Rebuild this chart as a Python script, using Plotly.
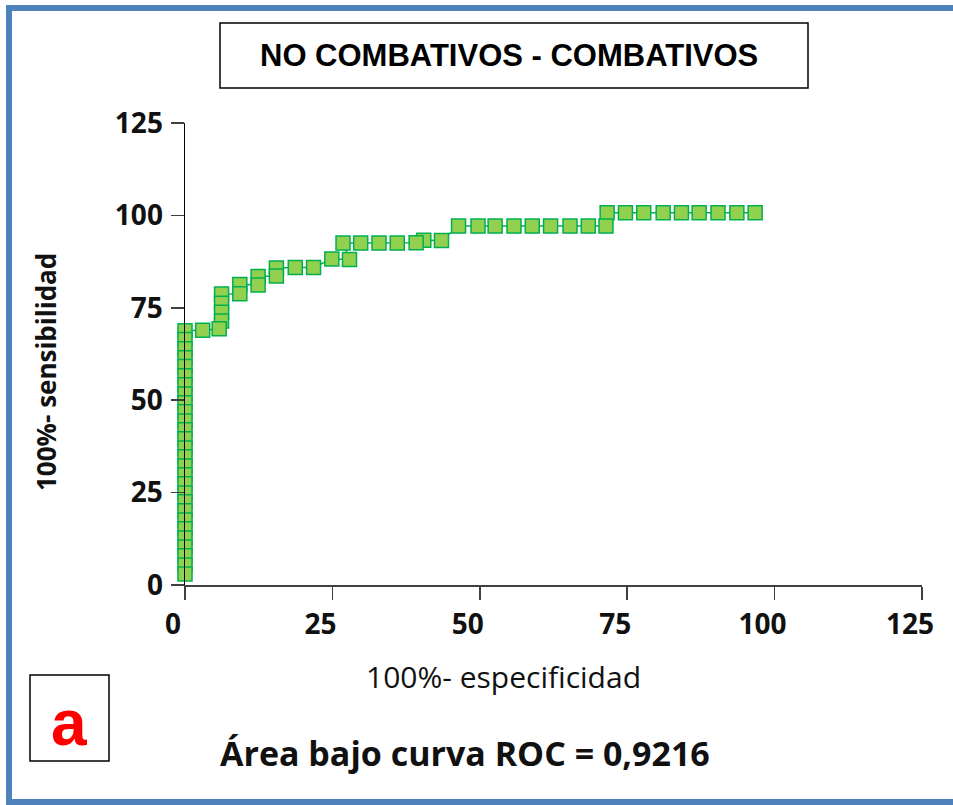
import plotly.graph_objects as go

# ---- data (100% - specificity, sensitivity) ----
fpr = [0, 0, 0, 0, 0, 0, 0, 0, 0, 0, 0, 0, 0, 0, 0, 0, 0, 0, 0, 0, 0, 0, 0, 0, 0, 0, 0, 0,
       3.0, 5.8, 6.2, 6.2, 6.2, 6.2, 9.3, 9.3, 12.4, 12.4, 15.5, 15.5, 18.7, 21.8,
       24.9, 27.9, 26.8, 29.8, 32.9, 36.0, 39.2, 40.5, 43.5,
       46.4, 49.7, 52.6, 55.8, 58.9, 62.0, 65.3, 68.4, 71.4,
       71.6, 74.7, 77.8, 81.1, 84.2, 87.2, 90.4, 93.6, 96.7]
tpr = [3.0, 5.4, 7.9, 10.3, 12.7, 15.2, 17.6, 20.1, 22.5, 24.9, 27.4, 29.8, 32.2, 34.7,
       37.1, 39.6, 42.0, 44.4, 46.9, 49.3, 51.7, 54.2, 56.6, 59.1, 61.5, 63.9, 66.4, 68.8,
       68.9, 69.3, 71.4, 73.8, 76.2, 78.7, 78.8, 81.3, 81.2, 83.5, 83.6, 85.8, 85.9, 85.9,
       88.2, 88.1, 92.5, 92.5, 92.5, 92.5, 92.6, 93.3, 93.2,
       97.1, 97.1, 97.1, 97.1, 97.1, 97.1, 97.1, 97.1, 97.1,
       100.7, 100.7, 100.7, 100.7, 100.7, 100.7, 100.7, 100.7, 100.7]
tick_vals = [0, 25, 50, 75, 100, 125]
tick_text = ["0", "25", "50", "75", "100", "125"]

title_text = "NO COMBATIVOS - COMBATIVOS"
x_title = "100%- especificidad"
y_title = "100%- sensibilidad"
auc_text = "Área bajo curva ROC = 0,9216"
panel_label = "a"

W, H = 953, 805
L, R, T, B = 185, 31, 123, 220
PW, PH = W - L - R, H - T - B

def px(x):
    return (x - L) / PW

def py(y):
    return (H - B - y) / PH

GREEN = "#00B050"
FILL = "#92D050"
BLUE = "#4F81BD"

fig = go.Figure()
# drawn from top-right towards origin so lower points overlap upper ones
fig.add_trace(go.Scatter(
    x=fpr[::-1], y=tpr[::-1], mode="lines+markers", cliponaxis=False,
    line=dict(color=GREEN, width=1.5),
    marker=dict(symbol="square", size=14, color=FILL, line=dict(color=GREEN, width=1.5)),
    hoverinfo="skip", showlegend=False))

fig.update_layout(
    width=W, height=H,
    margin=dict(l=L, r=R, t=T, b=B, pad=0),
    paper_bgcolor="white", plot_bgcolor="white",
    showlegend=False,
    xaxis=dict(range=[0, 125], tickvals=tick_vals, ticktext=tick_text,
               showgrid=False, zeroline=False, showline=True, linecolor="#404040", linewidth=1.5,
               ticks="outside", ticklen=13, tickwidth=1.5, tickcolor="#404040",
               tickfont=dict(family="Open Sans", size=28, color="#111111", weight="bold"),
               ticklabelshift=-12, ticklabelstandoff=1, layer="above traces", fixedrange=True),
    yaxis=dict(range=[0, 125], tickvals=tick_vals, ticktext=tick_text,
               showgrid=False, zeroline=False, showline=True, linecolor="black", linewidth=1.5,
               ticks="outside", ticklen=13, tickwidth=1.5, tickcolor="#404040",
               tickfont=dict(family="Open Sans", size=28, color="#111111", weight="bold"),
               ticklabelstandoff=2, layer="above traces", fixedrange=True),
)

frame = dict(color=BLUE, width=6)
shapes = [
    # outer blue frame: top, left, bottom (right side lies beyond the page)
    dict(type="line", xref="paper", yref="paper", x0=px(6), x1=px(953), y0=py(8), y1=py(8),
         line=frame, layer="below"),
    dict(type="line", xref="paper", yref="paper", x0=px(9), x1=px(9), y0=py(5), y1=py(805),
         line=frame, layer="below"),
    dict(type="line", xref="paper", yref="paper", x0=px(6), x1=px(953), y0=py(802), y1=py(802),
         line=frame, layer="below"),
    # title box
    dict(type="rect", xref="paper", yref="paper", x0=px(220), x1=px(808), y0=py(23), y1=py(88),
         line=dict(color="black", width=1.5), fillcolor="rgba(0,0,0,0)"),
    # panel label box
    dict(type="rect", xref="paper", yref="paper", x0=px(30), x1=px(109), y0=py(675), y1=py(761),
         line=dict(color="black", width=1.5), fillcolor="rgba(0,0,0,0)"),
]

annotations = [
    dict(text="<b>" + title_text + "</b>", x=px(509), y=py(55), xref="paper", yref="paper",
         showarrow=False, xanchor="center", yanchor="middle",
         font=dict(family="Liberation Sans", size=31, color="black")),
    dict(text=x_title, x=px(503), y=py(676), xref="paper", yref="paper",
         showarrow=False, xanchor="center", yanchor="middle",
         font=dict(family="Open Sans", size=30, color="#111111")),
    dict(text="<b>" + y_title + "</b>", x=px(46), y=py(372), xref="paper", yref="paper",
         showarrow=False, xanchor="center", yanchor="middle", textangle=-90,
         font=dict(family="Open Sans", size=26, color="#111111")),
    dict(text="<b>" + auc_text + "</b>", x=px(465), y=py(753), xref="paper", yref="paper",
         showarrow=False, xanchor="center", yanchor="middle",
         font=dict(family="Open Sans", size=34, color="#111111")),
    dict(text="<b>" + panel_label + "</b>", x=px(69), y=py(723), xref="paper", yref="paper",
         showarrow=False, xanchor="center", yanchor="middle",
         font=dict(family="Liberation Sans", size=64, color="#FF0000")),
]
fig.update_layout(shapes=shapes, annotations=annotations)

fig.write_html("out.html", include_plotlyjs=True, config=dict(displayModeBar=False, staticPlot=True))
